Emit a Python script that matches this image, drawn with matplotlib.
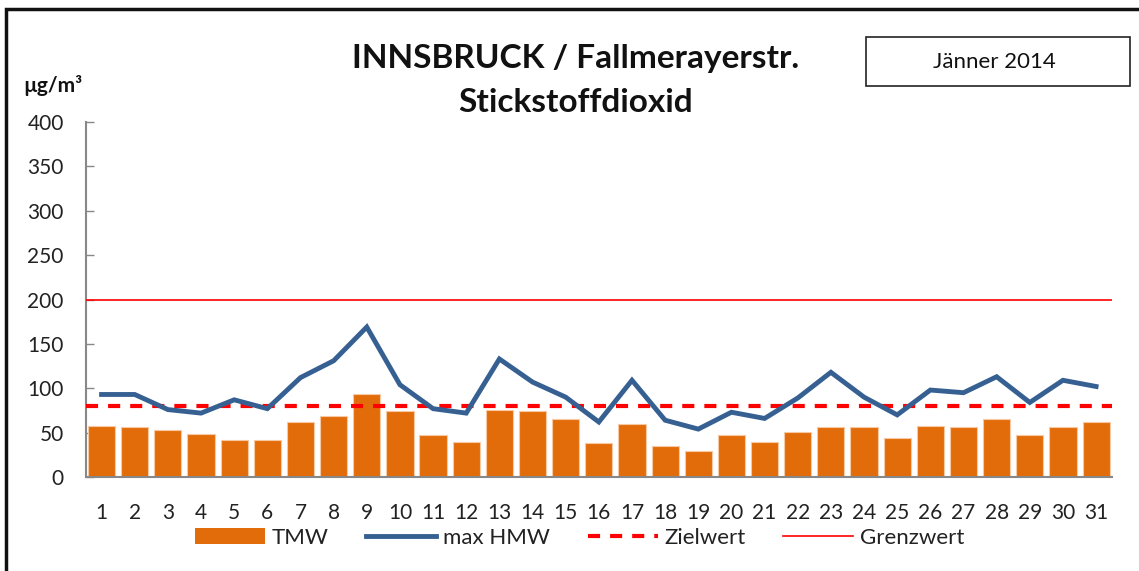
import numpy as np
import matplotlib.pyplot as plt
from matplotlib.lines import Line2D
from matplotlib.patches import Patch, Rectangle

plt.rcParams['font.family'] = ['Lato', 'DejaVu Sans']

days = list(range(1, 32))
tmw = [58, 56, 53, 49, 42, 42, 62, 69, 94, 74, 47, 40, 76, 74, 65, 38,
       60, 35, 29, 47, 40, 51, 56, 56, 44, 58, 56, 65, 47, 56, 62]
max_hmw = [93, 93, 76, 72, 87, 77, 112, 131, 169, 104, 77, 72, 133, 107, 90, 62,
           109, 64, 54, 73, 66, 89, 118, 90, 70, 98, 95, 113, 84, 109, 102]
zielwert = 80
grenzwert = 200
yticks = [0, 50, 100, 150, 200, 250, 300, 350, 400]

bar_col = '#E36C0A'
line_col = '#376092'
dash = (0, (2.9, 2.4))

fig = plt.figure(figsize=(11.39, 5.71), dpi=100)
ax = fig.add_axes([0.0755, 0.1646, 0.9008, 0.6217])

ax.bar(days, tmw, width=0.82, color=bar_col, edgecolor='#F6C9A4', linewidth=0.8, zorder=2)
ax.plot(days, max_hmw, color=line_col, lw=3.5, zorder=4, solid_joinstyle='miter')
ax.axhline(zielwert, color='#FF0000', lw=3, ls=dash, zorder=3)
ax.axhline(grenzwert, color='#FF0000', lw=1.2, zorder=3)

ax.set_xlim(0.53, 31.48)
ax.set_ylim(0, 400)
ax.set_yticks(yticks)
ax.set_xticks(days)
ax.tick_params(axis='y', direction='in', length=6, width=1, color='#888888',
               labelsize=15, pad=16, labelcolor='#222222')
ax.tick_params(axis='x', length=0, labelsize=15, pad=19, labelcolor='#222222')
for s in ['top', 'right']:
    ax.spines[s].set_visible(False)
for s in ['left', 'bottom']:
    ax.spines[s].set_color('#888888')
    ax.spines[s].set_linewidth(1.5)

fig.text(0.505, 1 - 68 / 571, 'INNSBRUCK / Fallmerayerstr.', ha='center', va='baseline',
         fontsize=24, fontweight='bold', color='#111111')
fig.text(0.505, 1 - 112 / 571, 'Stickstoffdioxid', ha='center', va='baseline',
         fontsize=24, fontweight='bold', color='#111111')
fig.text(0.020, 1 - 85 / 571, 'µg/m³', ha='left', va='center', fontsize=15,
         fontweight='bold', color='#111111')

fig.patches.append(Rectangle((866 / 1139, 1 - 86 / 571), 264 / 1139, 49 / 571,
                             transform=fig.transFigure, fill=False, edgecolor='#222222', lw=1.2))
fig.text(994 / 1139, 1 - 62 / 571, 'Jänner 2014', ha='center', va='center', fontsize=16,
         color='#111111')

fig.patches.append(Rectangle((6 / 1139, -0.05), 1.2, 1 - 9 / 571 + 0.05,
                             transform=fig.transFigure, fill=False, edgecolor='#111111', lw=2.5))

handles = [Patch(facecolor=bar_col, edgecolor='none'),
           Line2D([], [], color=line_col, lw=3.5),
           Line2D([], [], color='#FF0000', lw=3, ls=dash),
           Line2D([], [], color='#FF0000', lw=1.2)]
labels = ['TMW', 'max HMW', 'Zielwert', 'Grenzwert']
fig.legend(handles, labels, loc='center', bbox_to_anchor=(0.509, 1 - 538 / 571), ncol=4,
           frameon=False, fontsize=16, handlelength=3.15, handletextpad=0.3,
           columnspacing=1.7, labelcolor='#222222')

fig.savefig('out.png', dpi=100)
